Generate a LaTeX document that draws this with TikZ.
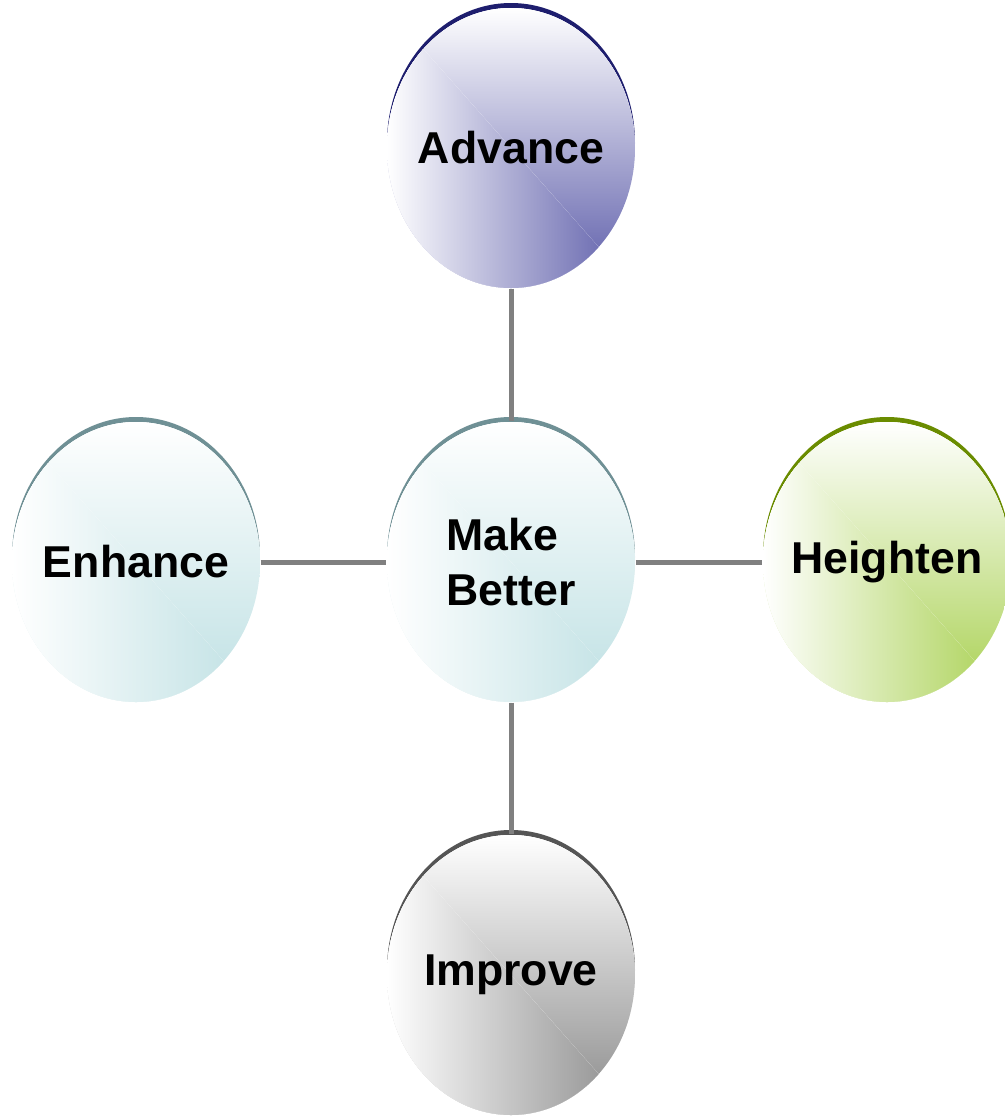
\documentclass[tikz,border=0pt]{standalone}
\usepackage{fontspec}
\setmainfont{Liberation Sans}
\usetikzlibrary{shapes.geometric,shadows}
\definecolor{advfill}{HTML}{5A5AA8}
\definecolor{advrim}{HTML}{1E1E6E}
\definecolor{tealfill}{HTML}{BEE0E3}
\definecolor{tealrim}{HTML}{6F9095}
\definecolor{greenfill}{HTML}{A8D050}
\definecolor{greenrim}{HTML}{6A8C00}
\definecolor{grayfill}{HTML}{8A8A8A}
\definecolor{grayrim}{HTML}{555555}
\definecolor{linkgray}{HTML}{808080}

\tikzset{
	bubble/.style 2 args={ellipse, minimum width=2.48cm, minimum height=2.8cm, inner sep=-0.4cm,
		fill=white,
		path picture={
			\fill[top color=white, middle color=#1!30, bottom color=#1]
				(path picture bounding box.north west) rectangle (path picture bounding box.south east);
			\fill[left color=white, middle color=#1!30, right color=#1]
				(path picture bounding box.north west) -- (path picture bounding box.south west)
				-- (path picture bounding box.south east) -- cycle;
		},
		general shadow={fill=#2, shadow yshift=0.05cm},
		font=\fontsize{12.7}{15.4}\selectfont\bfseries},
	link/.style={draw=linkgray, line width=0.05cm}
}

\begin{document}
\begin{tikzpicture}
	\useasboundingbox (0,0) rectangle (10.05,-11.16);
	\node[bubble={tealfill}{tealrim}, align=left] (mid) at (5.11,-5.62) {Make\\Better};
	\node[bubble={advfill}{advrim}, above of=mid, node distance=4.14cm] (adv) {Advance};
	\node[bubble={tealfill}{tealrim}, left of=mid, node distance=3.75cm] (enh) {Enhance};
	\node[bubble={greenfill}{greenrim}, right of=mid, node distance=3.76cm] (hei) {Heighten};
	\node[bubble={grayfill}{grayrim}, below of=mid, node distance=4.13cm] (imp) {Improve};

	\draw[link] (adv) -- (mid);
	\draw[link] (mid) -- (imp);
	\draw[link] (enh) -- (mid);
	\draw[link] (mid) -- (hei);
\end{tikzpicture}
\end{document}
